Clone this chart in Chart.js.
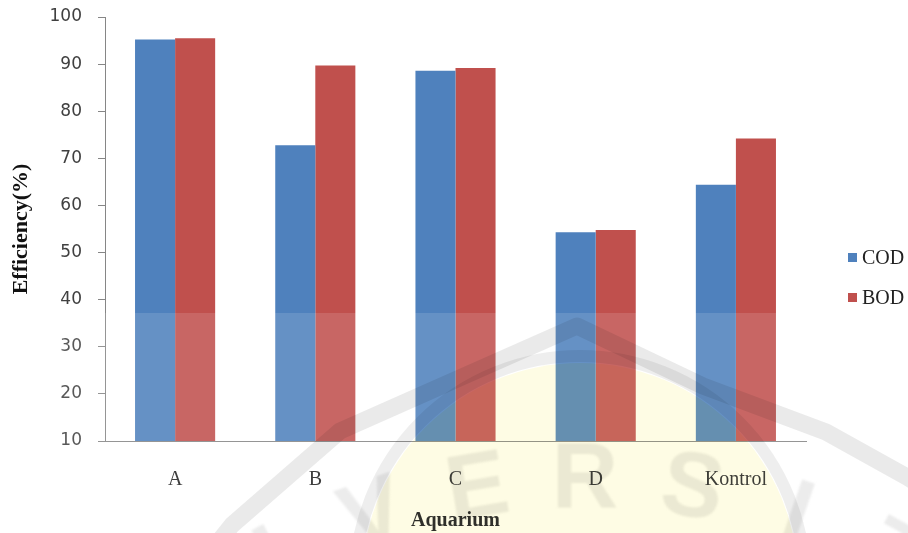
<!DOCTYPE html>
<html>
<head>
<meta charset="utf-8">
<script src="https://cdn.jsdelivr.net/npm/chart.js@4.4.1/dist/chart.umd.min.js"></script>
<style>
  html, body { margin: 0; padding: 0; background: #fff; }
  #wrap { width: 908px; height: 533px; position: relative; }
</style>
</head>
<body>
<div id="wrap"><canvas id="effChart"></canvas></div>
<script>
// removal efficiency per aquarium (%)
const aquariums = ["A", "B", "C", "D", "Kontrol"];
const codEff = [95.2, 72.8, 88.6, 54.3, 64.4];
const bodEff = [95.5, 89.7, 89.2, 54.8, 74.2];
const seriesNames = ["COD", "BOD"];
const seriesColors = ["#4F81BD", "#C0504D"];
const yMin = 10, yMax = 100, yStep = 10;

const axisGray = "#868686";

// legend on the right, drawn by hand so the boxes sit where we want them
const sideLegend = {
  id: "sideLegend",
  afterDraw(chart) {
    const ctx = chart.ctx;
    ctx.save();
    ctx.font = "20px 'Liberation Serif'";
    ctx.textBaseline = "middle";
    ctx.textAlign = "left";
    chart.data.datasets.forEach((ds, i) => {
      const cy = 258 + i * 40;
      ctx.fillStyle = ds.backgroundColor;
      ctx.fillRect(848, cy - 5, 9, 9);
      ctx.fillStyle = "#222";
      ctx.fillText(ds.label, 862, cy + 1);
    });
    ctx.restore();
  }
};

// faded university stamp over the lower half
const stamp = {
  id: "stamp",
  afterDraw(chart) {
    const ctx = chart.ctx;
    const W = chart.width, H = chart.height;
    ctx.save();
    ctx.fillStyle = "rgba(255,255,255,0.13)";
    ctx.fillRect(0, 313, W, H - 313);

    ctx.globalCompositeOperation = "multiply";
    // yellow disc
    ctx.fillStyle = "rgb(254,252,228)";
    ctx.beginPath();
    ctx.arc(580, 581, 218, 0, Math.PI * 2);
    ctx.fill();
    // ring round the disc
    ctx.strokeStyle = "rgb(238,238,238)";
    ctx.lineWidth = 12;
    ctx.beginPath();
    ctx.arc(580, 581, 225, 0, Math.PI * 2);
    ctx.stroke();
    // outer roof-shaped band
    ctx.strokeStyle = "rgb(234,234,234)";
    ctx.lineWidth = 17;
    ctx.lineJoin = "round";
    ctx.beginPath();
    const roof = [[180, 590], [232, 525], [340, 431], [437, 388], [577, 326],
                  [703, 386], [826, 432], [907, 477], [960, 510]];
    roof.forEach((p, i) => i ? ctx.lineTo(p[0], p[1]) : ctx.moveTo(p[0], p[1]));
    ctx.stroke();
    // lettering along the arc
    const word = "UNIVERSITAS";
    ctx.fillStyle = "rgb(236,236,236)";
    ctx.font = "bold 92px 'Liberation Sans'";
    ctx.textAlign = "center";
    ctx.textBaseline = "middle";
    ctx.filter = "blur(1px)";
    for (let i = 0; i < word.length; i++) {
      const a = (i - 5) * 0.166;
      const x = 585 + 648 * Math.sin(a);
      const y = 1130 - 648 * Math.cos(a);
      ctx.save();
      ctx.translate(x, y);
      ctx.rotate(a);
      ctx.fillText(word[i], 0, 0);
      ctx.restore();
    }
    ctx.restore();
  }
};

const datasets = [codEff, bodEff].map((vals, i) => ({
  label: seriesNames[i],
  data: vals,
  backgroundColor: seriesColors[i],
  borderWidth: 0,
  barPercentage: 1.0,
  categoryPercentage: 80 / 140
}));

new Chart(document.getElementById("effChart"), {
  type: "bar",
  data: { labels: aquariums, datasets: datasets },
  options: {
    responsive: true,
    maintainAspectRatio: false,
    animation: false,
    devicePixelRatio: 1,
    layout: { padding: { top: 17, right: 102, left: 0, bottom: 0 } },
    plugins: {
      legend: { display: false },
      tooltip: { enabled: false }
    },
    scales: {
      x: {
        grid: { display: false },
        border: { display: true, color: axisGray, width: 1 },
        ticks: {
          padding: 19,
          color: "#222",
          font: { family: "'Liberation Serif'", size: 20 }
        },
        title: {
          display: true,
          text: "Aquarium",
          color: "#111",
          font: { family: "'Liberation Serif'", size: 20, weight: "bold" },
          padding: { top: 0, bottom: 0 }
        },
        afterFit(scale) { scale.height = 92; }
      },
      y: {
        min: yMin,
        max: yMax,
        grid: {
          drawOnChartArea: false,
          drawTicks: true,
          tickLength: 7,
          color: axisGray
        },
        border: { display: true, color: axisGray, width: 1 },
        ticks: {
          stepSize: yStep,
          padding: 16,
          color: "#404040",
          font: { family: "'DejaVu Sans'", size: 17 }
        },
        title: {
          display: true,
          text: "Efficiency(%)",
          color: "#111",
          font: { family: "'Liberation Serif'", size: 22, weight: "bold" },
          padding: { top: 8, bottom: 0 }
        },
        afterFit(scale) {
          scale.width = 105;
          // top label overhang is covered by the layout padding
          scale.paddingTop = 0;
          scale.paddingBottom = 0;
        }
      }
    }
  },
  plugins: [stamp, sideLegend]
});
</script>
</body>
</html>
